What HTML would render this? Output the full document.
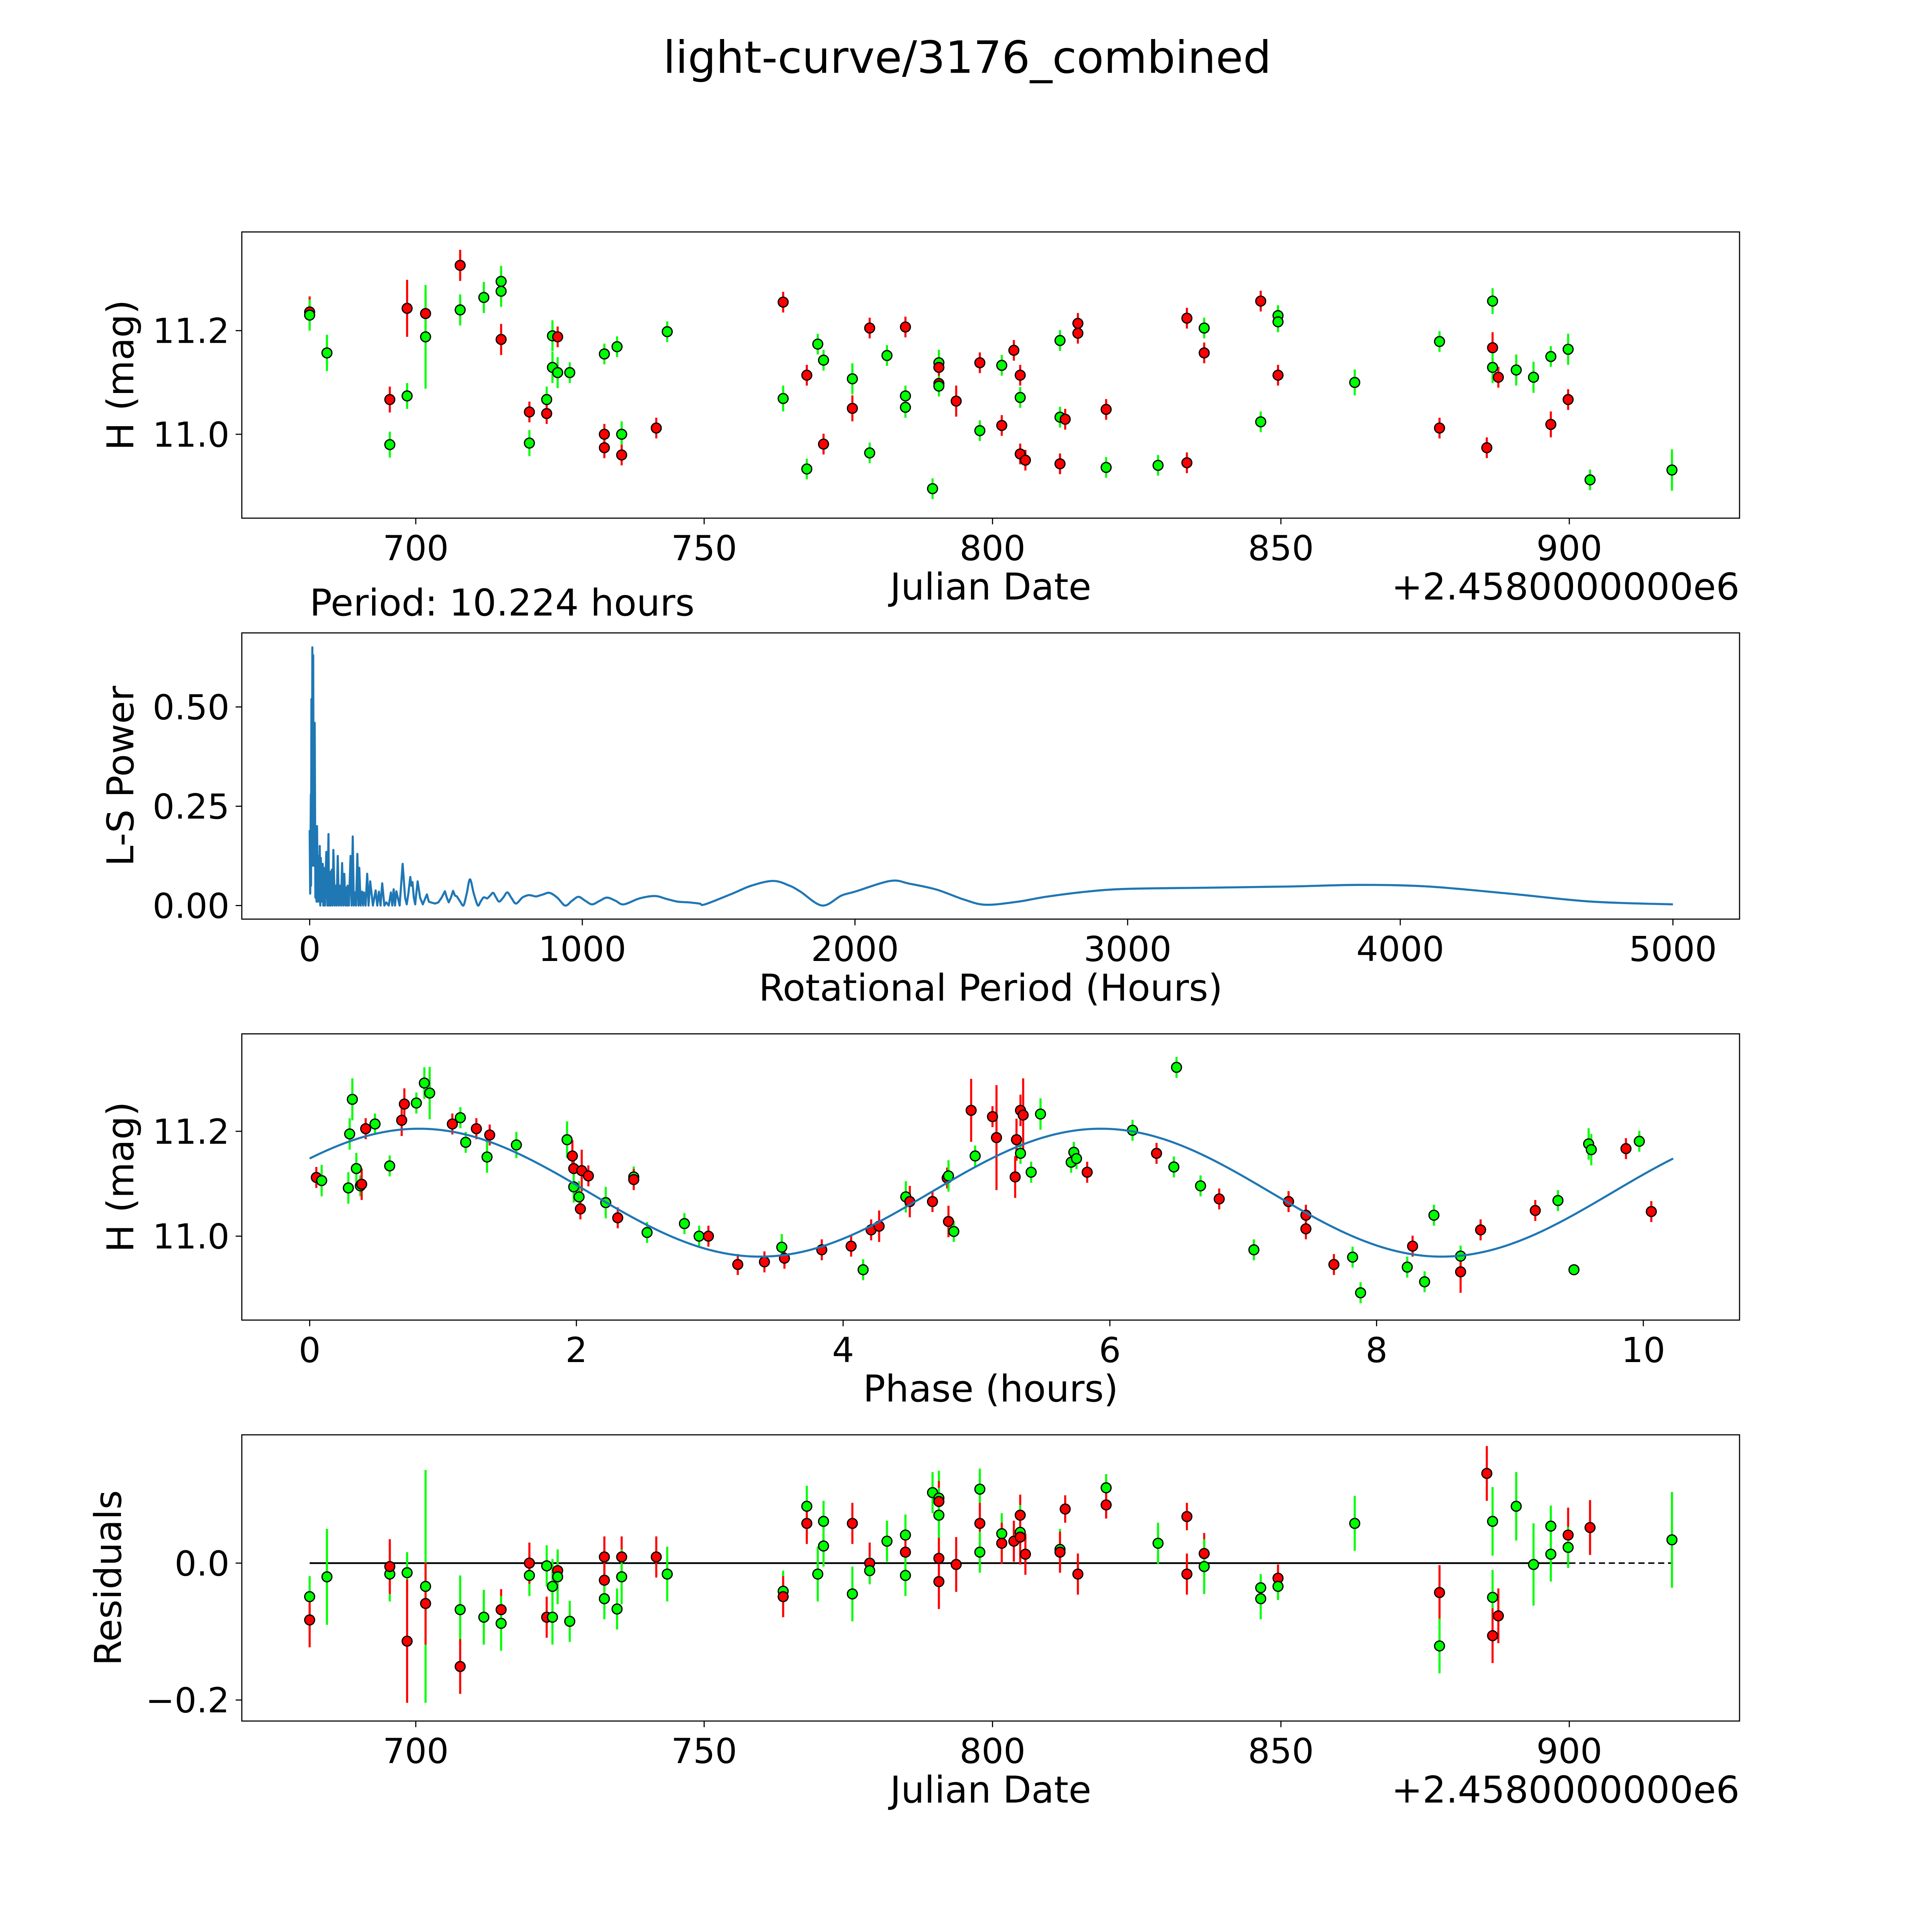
<!DOCTYPE html>
<html><head><meta charset="utf-8"><style>
html,body{margin:0;padding:0;background:#fff;overflow:hidden;width:100vw;height:100vh;}
svg{display:block;position:absolute;left:0;top:0;width:100vw;height:100vh;font-family:"DejaVu Sans","Liberation Sans",sans-serif;}
</style></head><body>
<svg id="fig" xmlns="http://www.w3.org/2000/svg" viewBox="0 0 1566 1566" preserveAspectRatio="xMinYMin meet">
<rect x="0" y="0" width="1566" height="1566" fill="#fff"/>
<text x="784" y="59" font-size="36" text-anchor="middle">light-curve/3176_combined</text>
<g id="p1"></g>
<g id="p2"></g>
<g id="p3"></g>
<g id="p4"></g>
</svg>
<script>
// ---- panel 1: light curve (Julian date offset, H mag) ----
const dates1=[681.6,681.6,684.6,695.5,695.5,698.5,698.5,701.7,701.7,707.7,707.7,711.8,714.8,714.8,714.8,719.7,719.7,722.7,722.7,723.7,723.7,724.6,724.6,726.7,732.7,732.7,732.7,734.9,735.7,735.7,741.7,743.6,763.7,763.7,767.8,767.8,769.7,770.7,770.7,775.7,775.7,778.7,778.7,781.7,784.9,784.9,784.9,789.6,790.7,790.7,790.7,790.7,793.7,797.8,797.8,801.6,801.6,803.7,804.8,804.8,804.8,805.7,811.7,811.7,812.6,811.7,814.8,814.8,819.7,819.7,828.7,833.7,833.7,836.7,836.7,846.5,846.5,849.5,849.5,849.5,862.8,877.5,877.5,885.7,886.7,886.7,886.7,887.7,890.8,893.8,896.8,896.8,899.8,899.8,903.6,917.8];
const mags1=[11.236,11.23,11.157,11.067,10.98,11.243,11.074,11.233,11.188,11.326,11.24,11.264,11.295,11.276,11.183,11.043,10.983,11.067,11.04,11.19,11.129,11.188,11.119,11.119,11.155,11.0,10.974,11.169,11.0,10.96,11.012,11.198,11.255,11.069,11.114,10.933,11.174,11.143,10.981,11.107,11.05,11.205,10.964,11.152,11.207,11.074,11.052,10.895,11.138,11.129,11.098,11.093,11.064,11.138,11.007,11.017,11.133,11.162,11.114,11.071,10.962,10.95,11.181,11.033,11.029,10.943,11.214,11.195,11.048,10.936,10.94,11.224,10.945,11.205,11.157,11.257,11.024,11.229,11.217,11.114,11.1,11.179,11.012,10.974,11.257,11.167,11.129,11.11,11.124,11.11,11.15,11.019,11.164,11.067,10.912,10.931];
const errs1=[0.03,0.03,0.035,0.025,0.025,0.055,0.025,0.04,0.1,0.03,0.03,0.03,0.03,0.03,0.03,0.02,0.025,0.025,0.02,0.03,0.03,0.02,0.03,0.02,0.02,0.02,0.02,0.02,0.025,0.02,0.02,0.02,0.02,0.025,0.02,0.02,0.02,0.02,0.02,0.03,0.025,0.02,0.02,0.02,0.02,0.02,0.02,0.02,0.025,0.02,0.02,0.02,0.03,0.02,0.02,0.02,0.02,0.02,0.02,0.02,0.02,0.02,0.02,0.02,0.02,0.02,0.02,0.02,0.02,0.02,0.02,0.02,0.02,0.02,0.02,0.02,0.02,0.02,0.02,0.02,0.025,0.02,0.02,0.02,0.025,0.03,0.03,0.02,0.03,0.03,0.02,0.025,0.03,0.02,0.02,0.04];
const colors1="rggrgrgrgrggggrrggrggrgggrrggrrgrgrgggrgrrggrggggrrgrrgrgrrgrrggrrrrrggrrgrrgggrggrrgrgrgggrgrgg";
// ---- panel 2: periodogram ----
const periods2=[0,2,4.4,5,6.5,8,9.8,11,13,15,18.5,21,23,25,27,30,33,35,37,39,41,44,48,50,52,56,61,65,69,71,74,77,81,84,87,92,96,99,103,107,111,115,119,123,127,131,134,137,139,144,150,154,158,162,166,170,175,179,182,187,192,196,199,205,211,216,222,232,242,248,254,260,266,274,281,290,298,303,308,313,318,330,341,350,356,362,369,373,377,382,387,391,396,405,415,422,430,437,444,460,472,484,496,503,510,518,526,533,540,552,564,576,588,602,617,627,637,644,651,662,673,684,695,710,725,741,757,780,801,816,831,856,880,908,937,962,986,1011,1036,1064,1091,1122,1152,1210,1266,1307,1348,1390,1430,1450,1550,1620,1700,1760,1800,1880,1950,2000,2130,2200,2300,2400,2480,2600,2700,2850,3000,3300,3600,3850,4100,4400,4700,5000];
const powers2=[0.19,0.03,0.28,0.05,0.52,0.1,0.65,0.25,0.63,0.1,0.46,0.02,0.12,0.01,0.2,0.01,0.125,0.01,0.15,0.0,0.12,0.01,0.105,0.0,0.095,0.0,0.135,0.0,0.18,0.0,0.085,0.0,0.09,0.0,0.14,0.0,0.05,0.0,0.125,0.0,0.05,0.0,0.107,0.0,0.08,0.0,0.045,0.0,0.05,0.0,0.125,0.0,0.174,0.0,0.033,0.0,0.13,0.0,0.095,0.0,0.035,0.0,0.033,0.0,0.08,0.0,0.061,0.0,0.038,0.0,0.035,0.0,0.056,0.0,0.008,0.0,0.033,0.0,0.041,0.0,0.036,0.0,0.105,0.02,0.003,0.03,0.072,0.05,0.059,0.02,0.003,0.03,0.061,0.02,0.003,0.015,0.028,0.01,0.008,0.005,0.008,0.02,0.036,0.02,0.008,0.02,0.037,0.025,0.023,0.01,0.0,0.03,0.066,0.03,0.0,0.01,0.02,0.02,0.018,0.025,0.032,0.02,0.01,0.02,0.033,0.018,0.005,0.02,0.026,0.025,0.023,0.028,0.032,0.02,0.0,0.012,0.022,0.012,0.003,0.012,0.02,0.012,0.003,0.018,0.024,0.017,0.01,0.008,0.005,0.003,0.03,0.05,0.062,0.05,0.035,0.0,0.025,0.035,0.062,0.055,0.04,0.015,0.002,0.01,0.022,0.035,0.042,0.045,0.048,0.052,0.048,0.03,0.01,0.003];
// ---- panel 3: phase folded ----
const phases3=[0.05,0.09,0.29,0.30,0.32,0.35,0.38,0.39,0.42,0.49,0.60,0.69,0.71,0.80,0.86,0.90,1.07,1.13,1.17,1.25,1.33,1.35,1.55,1.93,1.97,1.98,1.98,2.02,2.03,2.04,2.09,2.22,2.31,2.43,2.43,2.53,2.81,2.92,2.99,3.21,3.41,3.54,3.56,3.84,4.06,4.15,4.21,4.27,4.47,4.50,4.67,4.78,4.79,4.79,4.83,4.96,4.99,5.12,5.15,5.29,5.30,5.33,5.35,5.33,5.41,5.48,5.71,5.73,5.75,5.83,6.17,6.35,6.48,6.50,6.68,6.82,7.08,7.34,7.47,7.47,7.68,7.82,7.88,8.23,8.27,8.36,8.43,8.63,8.63,8.78,9.19,9.36,9.48,9.59,9.61,9.87,9.97,10.06];
const mags3=[11.112,11.106,11.092,11.195,11.261,11.129,11.096,11.099,11.205,11.214,11.134,11.221,11.252,11.254,11.292,11.273,11.214,11.226,11.179,11.205,11.151,11.193,11.174,11.184,11.153,11.129,11.094,11.075,11.052,11.125,11.115,11.064,11.035,11.113,11.108,11.007,11.024,11.0,11.0,10.946,10.951,10.979,10.958,10.974,10.981,10.936,11.012,11.019,11.075,11.066,11.066,11.111,11.115,11.028,11.009,11.24,11.153,11.228,11.188,11.113,11.184,11.24,11.231,11.158,11.122,11.233,11.141,11.16,11.148,11.122,11.202,11.158,11.132,11.322,11.096,11.071,10.974,11.066,11.04,11.014,10.946,10.96,10.892,10.941,10.981,10.913,11.04,10.962,10.932,11.012,11.049,11.068,10.936,11.176,11.165,11.167,11.181,11.047];
const errs3=[0.02,0.03,0.03,0.03,0.04,0.03,0.02,0.03,0.02,0.02,0.02,0.03,0.03,0.02,0.03,0.05,0.02,0.02,0.02,0.02,0.03,0.02,0.025,0.035,0.03,0.03,0.03,0.03,0.02,0.04,0.02,0.03,0.02,0.02,0.02,0.02,0.02,0.02,0.02,0.02,0.02,0.025,0.02,0.02,0.02,0.02,0.02,0.03,0.03,0.03,0.02,0.02,0.03,0.03,0.02,0.06,0.02,0.02,0.1,0.04,0.04,0.03,0.07,0.02,0.02,0.03,0.02,0.02,0.02,0.02,0.02,0.02,0.02,0.02,0.02,0.02,0.02,0.02,0.02,0.02,0.02,0.02,0.02,0.02,0.02,0.02,0.02,0.02,0.04,0.02,0.02,0.02,0.0,0.03,0.03,0.02,0.02,0.02];
const colors3="rggggggrrggrrgggrggrgrggrrggrrrgrgrgggrrrgrrrgrrgrrrgrgrgrrrrrrggggggrgrgggrgrrrrgggrgggrrrggggrgr";
const fitMean=11.083, fitAmp=0.122, fitPeak=0.82, fitHalfPeriod=5.112, fitEnd=10.224;
// ---- panel 4: residuals ----
const dates4=[681.6,681.6,684.6,695.5,695.5,698.5,698.5,701.7,701.7,707.7,707.7,711.8,714.8,714.8,719.7,719.7,722.7,722.7,723.7,723.7,724.6,724.6,726.7,732.7,732.7,732.7,734.9,735.7,735.7,741.7,743.6,763.7,763.7,767.8,767.8,769.7,770.7,770.7,775.7,775.7,778.7,778.7,781.7,784.9,784.9,784.9,789.6,790.7,790.7,790.7,790.7,790.7,793.7,797.8,797.8,797.8,801.6,801.6,803.7,804.8,804.8,804.8,805.7,811.7,811.7,812.6,814.8,819.7,819.7,828.7,833.7,833.7,836.7,836.7,846.5,846.5,849.5,849.5,862.8,877.5,877.5,885.7,886.7,886.7,886.7,887.7,890.8,893.8,896.8,896.8,899.8,899.8,903.6,917.8];
const resid4=[-0.049,-0.083,-0.02,-0.016,-0.005,-0.014,-0.114,-0.034,-0.059,-0.068,-0.151,-0.079,-0.068,-0.088,-0.018,0.0,-0.004,-0.079,-0.034,-0.079,-0.011,-0.02,-0.085,-0.025,0.009,-0.052,-0.067,0.009,-0.02,0.009,-0.016,-0.041,-0.049,0.083,0.058,-0.016,0.061,0.025,0.058,-0.045,0.0,-0.011,0.032,0.041,0.016,-0.018,0.103,0.095,0.09,0.07,0.007,-0.027,-0.002,0.108,0.058,0.016,0.043,0.029,0.032,0.07,0.045,0.038,0.013,0.02,0.016,0.079,-0.016,0.11,0.085,0.029,0.068,-0.016,0.014,-0.005,-0.036,-0.052,-0.022,-0.034,0.058,-0.043,-0.121,0.131,0.061,-0.05,-0.106,-0.077,0.083,-0.002,0.054,0.013,0.041,0.023,0.052,0.034];
const errs4=[0.03,0.04,0.07,0.04,0.04,0.03,0.09,0.17,0.06,0.05,0.04,0.04,0.03,0.04,0.03,0.03,0.03,0.03,0.04,0.04,0.03,0.04,0.03,0.03,0.03,0.03,0.03,0.03,0.04,0.03,0.04,0.03,0.03,0.03,0.03,0.04,0.03,0.03,0.03,0.04,0.03,0.02,0.03,0.03,0.03,0.03,0.03,0.04,0.03,0.04,0.03,0.04,0.04,0.03,0.03,0.03,0.03,0.03,0.03,0.03,0.04,0.04,0.03,0.03,0.03,0.02,0.03,0.02,0.02,0.03,0.02,0.03,0.03,0.04,0.02,0.03,0.02,0.02,0.04,0.04,0.04,0.04,0.05,0.04,0.04,0.04,0.05,0.06,0.03,0.04,0.04,0.03,0.04,0.07];
const colors4="grggrgrgrgrgrggrgrggrggrrggrgrggrgrgggrgrgggrgggrgrrrgrggrrrgrrgrrrgrgrrrgggrggrgrggrrggggrgrgg";

const NS="http://www.w3.org/2000/svg";
const COL={r:"#ff0000",g:"#00ff00"};
const TICK_FS=28, LABEL_FS=30;
function mk(parent,tag,attrs){const e=document.createElementNS(NS,tag);for(const k in attrs)e.setAttribute(k,attrs[k]);parent.appendChild(e);return e;}
function lin(d0,d1,p0,p1){return v=>p0+(v-d0)*(p1-p0)/(d1-d0);}

function frame(g,L,T,R,B,xs,ys,xt,yt,xlabel,ylabel,ylx){
  const fr=mk(g,"rect",{x:L,y:T,width:R-L,height:B-T,fill:"none",stroke:"#000","stroke-width":0.9});
  
  
  xt.forEach(t=>{const x=xs(t.v);
    mk(g,"line",{x1:x,y1:B,x2:x,y2:B+5,stroke:"#000","stroke-width":0.9});
    const tx=mk(g,"text",{x:x,y:B+34,"font-size":TICK_FS,"text-anchor":"middle"});tx.textContent=t.l;
    
    });
  yt.forEach(t=>{const y=ys(t.v);
    mk(g,"line",{x1:L-5,y1:y,x2:L,y2:y,stroke:"#000","stroke-width":0.9});
    const tx=mk(g,"text",{x:L-10,y:y+10,"font-size":TICK_FS,"text-anchor":"end"});tx.textContent=t.l;
    
    });
  const xl=mk(g,"text",{x:(L+R)/2,y:B+66,"font-size":LABEL_FS,"text-anchor":"middle"});xl.textContent=xlabel;
  
  
  const yc=(T+B)/2;
  const yl=mk(g,"text",{x:ylx,y:yc,"font-size":LABEL_FS,"text-anchor":"middle",transform:`rotate(-90 ${ylx} ${yc})`});yl.textContent=ylabel;
  
  
}
function points(g,xs,ys,xv,yv,ev,cv){
  xv.forEach((d,i)=>{const c=COL[cv[i]]||COL.g;const x=xs(d);
    const eb=mk(g,"line",{x1:x,y1:ys(yv[i]-ev[i]),x2:x,y2:ys(yv[i]+ev[i]),stroke:c,"stroke-width":1.7});
    
    });
  xv.forEach((d,i)=>{const c=COL[cv[i]]||COL.g;
    const p=mk(g,"circle",{cx:xs(d),cy:ys(yv[i]),r:4,fill:c,stroke:"#000","stroke-width":1});
    
    });
}
const jdTicks=[700,750,800,850,900].map(v=>({v,l:String(v)}));
function offsetText(g,B){const t=mk(g,"text",{x:1410,y:B+66,"font-size":LABEL_FS,"text-anchor":"end"});t.textContent="+2.4580000000e6";
  
  }

// panel 1
(function(){const g=document.getElementById("p1");const L=196,T=188,R=1410,B=420;
  const xs=lin(700,900,337,1272), ys=lin(11.0,11.2,352,268);
  frame(g,L,T,R,B,xs,ys,jdTicks,[{v:11.0,l:"11.0"},{v:11.2,l:"11.2"}],"Julian Date","H (mag)",108);
  offsetText(g,B);
  points(g,xs,ys,dates1,mags1,errs1,colors1);
})();
// panel 2
(function(){const g=document.getElementById("p2");const L=196,T=513,R=1410,B=745;
  const xs=lin(0,5000,251,1356), ys=lin(0,0.5,734,573);
  const ptitle=mk(g,"text",{x:251,y:499,"font-size":LABEL_FS});ptitle.textContent="Period: 10.224 hours";
  
  
  frame(g,L,T,R,B,xs,ys,[0,1000,2000,3000,4000,5000].map(v=>({v,l:String(v)})),[0,0.25,0.5].map(v=>({v,l:v.toFixed(2)})),"Rotational Period (Hours)","L-S Power",108);
  const P=periods2.map((p,i)=>[xs(p),ys(powers2[i])]);
  let d="M"+P[0][0].toFixed(2)+","+P[0][1].toFixed(2);
  for(let i=1;i<P.length;i++){
    if(periods2[i]<560){d+=" L"+P[i][0].toFixed(2)+","+P[i][1].toFixed(2);continue;}
    const p0=P[Math.max(0,i-2)],p1=P[i-1],p2=P[i],p3=P[Math.min(P.length-1,i+1)];
    const c1x=p1[0]+(p2[0]-p0[0])/6,c1y=p1[1]+(p2[1]-p0[1])/6,c2x=p2[0]-(p3[0]-p1[0])/6,c2y=p2[1]-(p3[1]-p1[1])/6;
    d+=` C${c1x.toFixed(2)},${Math.min(c1y,734.5).toFixed(2)} ${c2x.toFixed(2)},${Math.min(c2y,734.5).toFixed(2)} ${p2[0].toFixed(2)},${p2[1].toFixed(2)}`;
  }
  const pl=mk(g,"path",{d:d,fill:"none",stroke:"#1f77b4","stroke-width":1.7,"stroke-linejoin":"round"});
  
  
})();
// panel 3
(function(){const g=document.getElementById("p3");const L=196,T=838,R=1410,B=1070;
  const xs=lin(0,10,251,1332), ys=lin(11.0,11.2,1002,917);
  frame(g,L,T,R,B,xs,ys,[0,2,4,6,8,10].map(v=>({v,l:String(v)})),[{v:11.0,l:"11.0"},{v:11.2,l:"11.2"}],"Phase (hours)","H (mag)",108);
  points(g,xs,ys,phases3,mags3,errs3,colors3);
  let s=[];for(let i=0;i<=300;i++){const ph=fitEnd*i/300;const m=fitMean+fitAmp*Math.cos(2*Math.PI*(ph-fitPeak)/fitHalfPeriod);s.push(xs(ph).toFixed(2)+","+ys(m).toFixed(2));}
  const fl=mk(g,"polyline",{points:s.join(" "),fill:"none",stroke:"#1f77b4","stroke-width":1.7});
  
  
})();
// panel 4
(function(){const g=document.getElementById("p4");const L=196,T=1163,R=1410,B=1395;
  const xs=lin(700,900,337,1272), ys=lin(0,-0.2,1267,1378);
  frame(g,L,T,R,B,xs,ys,jdTicks,[{v:0,l:"0.0"},{v:-0.2,l:"\u22120.2"}],"Julian Date","Residuals",98);
  offsetText(g,B);
  const z1=mk(g,"line",{x1:xs(681.6),y1:ys(0),x2:xs(900),y2:ys(0),stroke:"#000","stroke-width":1.4});
  
  
  const z2=mk(g,"line",{x1:xs(900),y1:ys(0),x2:xs(917.8),y2:ys(0),stroke:"#000","stroke-width":1.2,"stroke-dasharray":"5,3"});
  
  
  points(g,xs,ys,dates4,resid4,errs4,colors4);
})();
</script>
</body></html>
